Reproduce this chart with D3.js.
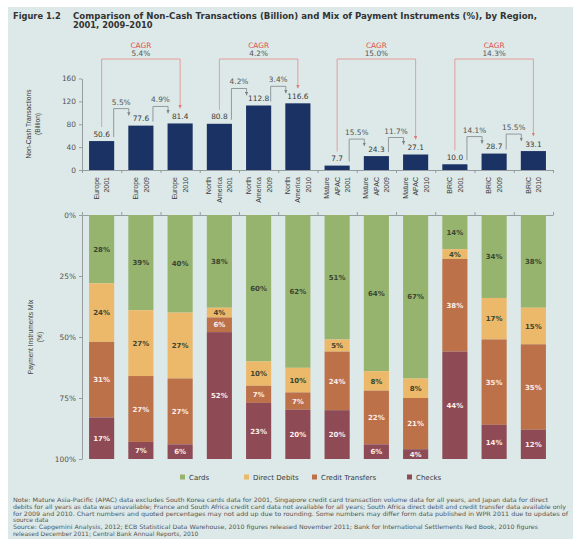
<!DOCTYPE html>
<html>
<head>
<meta charset="utf-8">
<script src="https://cdn.jsdelivr.net/npm/d3@7"></script>
<style>
  body { margin: 0; background: #fff; }
  svg { display: block; font-family: "DejaVu Sans", Verdana, sans-serif; }
</style>
</head>
<body>
<div id="canvas"></div>
<script>
// chart data
const categories = [
  'Europe\n2001', 'Europe\n2009', 'Europe\n2010',
  'North\nAmerica\n2001', 'North\nAmerica\n2009', 'North\nAmerica\n2010',
  'Mature\nAPAC\n2001', 'Mature\nAPAC\n2009', 'Mature\nAPAC\n2010',
  'BRIC\n2001', 'BRIC\n2009', 'BRIC\n2010'
];
const transactions = [50.6, 77.6, 81.4, 80.8, 112.8, 116.6, 7.7, 24.3, 27.1, 10.0, 28.7, 33.1];
const growthLabels = ['5.5%', '4.9%', '4.2%', '3.4%', '15.5%', '11.7%', '14.1%', '15.5%'];
const cagrLabels = ['5.4%', '4.2%', '15.0%', '14.3%'];

const mixKeys = ['Cards', 'Direct Debits', 'Credit Transfers', 'Checks'];
const cards = [28, 39, 40, 38, 60, 62, 51, 64, 67, 14, 34, 38];
const directDebits = [24, 27, 27, 4, 10, 10, 5, 8, 8, 4, 17, 15];
const creditTransfers = [31, 27, 27, 6, 7, 7, 24, 22, 21, 38, 35, 35];
const checks = [17, 7, 6, 52, 23, 20, 20, 6, 4, 44, 14, 12];

const yTicksTop = [0, 40, 80, 120, 160];
const yTicksMix = [0, 0.25, 0.5, 0.75, 1];

const notes = [
  'Note: Mature Asia-Pacific (APAC) data excludes South Korea cards data for 2001, Singapore credit card transaction volume data for all years, and Japan data for direct',
  'debits for all years as data was unavailable; France and South Africa credit card data not available for all years; South Africa direct debit and credit transfer data available only',
  'for 2009 and 2010. Chart numbers and quoted percentages may not add up due to rounding. Some numbers may differ form data published in WPR 2011 due to updates of',
  'source data',
  'Source: Capgemini Analysis, 2012; ECB Statistical Data Warehouse, 2010 figures released November 2011; Bank for International Settlements Red Book, 2010 figures',
  'released December 2011; Central Bank Annual Reports, 2010'
];

// canvas
const width = 573;
const height = 539;

const svg = d3.select('#canvas')
  .append('svg')
  .attr('width', width)
  .attr('height', height);

svg.append('rect')
  .attr('x', 8).attr('y', 7)
  .attr('width', width - 8).attr('height', height - 7)
  .attr('fill', '#dce9e8');

const colors = {
  'Cards': '#97b46f',
  'Direct Debits': '#ecb96b',
  'Credit Transfers': '#bd7149',
  'Checks': '#8e4b55'
};
const axisColor = '#8d9497';
const textColor = '#3a3a3a';

// title
svg.append('text')
  .attr('x', 13).attr('y', 19)
  .attr('font-size', 8.3).attr('font-weight', 'bold').attr('fill', '#333')
  .text('Figure 1.2');
svg.append('text')
  .attr('x', 73).attr('y', 19)
  .attr('font-size', 8.3).attr('font-weight', 'bold').attr('fill', '#333')
  .attr('textLength', 464).attr('lengthAdjust', 'spacingAndGlyphs')
  .text('Comparison of Non-Cash Transactions (Billion) and Mix of Payment Instruments (%), by Region,');
svg.append('text')
  .attr('x', 73).attr('y', 28)
  .attr('font-size', 8.3).attr('font-weight', 'bold').attr('fill', '#333')
  .text('2001, 2009\u20132010');

// scales
const x = d3.scaleBand()
  .domain(d3.range(categories.length))
  .range([82, 553])
  .paddingInner(0.36)
  .paddingOuter(0.18);
const xEdge = d3.scaleLinear().domain([0, categories.length]).range([82, 553]);
const yTop = d3.scaleLinear().domain([0, 160]).range([170, 78.5]);
const yMix = d3.scaleLinear().domain([0, 1]).range([215, 459]);
const bw = x.bandwidth();

// markers
const defs = svg.append('defs');
[['arrowGrey', '#7f868a'], ['arrowRed', '#e2787a']].forEach(([id, c]) => {
  defs.append('marker')
    .attr('id', id)
    .attr('viewBox', '0 0 6 6')
    .attr('refX', 6).attr('refY', 3)
    .attr('markerWidth', 3.4).attr('markerHeight', 3.4)
    .attr('markerUnits', 'userSpaceOnUse')
    .attr('orient', 'auto')
    .append('path').attr('d', 'M0,0L6,3L0,6Z').attr('fill', c);
});

const styleAxis = g => {
  g.attr('font-family', null).attr('font-size', 7.4);
  g.select('.domain').attr('stroke', axisColor).attr('stroke-width', 0.9);
  g.selectAll('.tick line').attr('stroke', axisColor).attr('stroke-width', 0.9);
  g.selectAll('.tick text').attr('fill', '#555');
};

// ---------- top chart: non-cash transactions ----------
svg.append('g')
  .attr('transform', 'translate(82,0)')
  .call(d3.axisLeft(yTop).tickValues(yTicksTop).tickSize(3).tickSizeOuter(0))
  .call(styleAxis);

svg.append('g')
  .attr('transform', 'translate(0,170)')
  .call(d3.axisBottom(xEdge).tickValues(d3.range(categories.length + 1)).tickFormat('').tickSize(3).tickSizeOuter(0))
  .call(styleAxis);

svg.append('g').selectAll('rect')
  .data(transactions)
  .join('rect')
    .attr('x', (d, i) => x(i))
    .attr('y', d => yTop(d))
    .attr('width', bw)
    .attr('height', d => yTop(0) - yTop(d))
    .attr('fill', '#1b3264');

svg.append('g').selectAll('text')
  .data(transactions)
  .join('text')
    .attr('x', (d, i) => x(i) + bw / 2)
    .attr('y', d => yTop(d) - 4.5)
    .attr('text-anchor', 'middle')
    .attr('font-size', 7.4)
    .attr('fill', textColor)
    .text(d => d.toFixed(1));

// category labels (rotated)
const catG = svg.append('g').selectAll('g')
  .data(categories)
  .join('g')
    .attr('transform', (d, i) => `translate(${x(i) + bw / 2},177) rotate(-90)`);
catG.append('text')
  .attr('text-anchor', 'end')
  .attr('font-size', 7)
  .attr('fill', textColor)
  .attr('font-family', '"Liberation Sans", Arial, sans-serif')
  .each(function (d) {
    const lines = d.split('\n');
    d3.select(this).selectAll('tspan')
      .data(lines)
      .join('tspan')
        .attr('x', 0)
        .attr('y', (l, k) => (k - (lines.length - 1) / 2) * 10.5 + 2.5)
        .text(l => l);
  });

// year-over-year growth brackets
const pairs = [];
for (let g = 0; g < 4; g++) for (let k = 0; k < 2; k++) pairs.push([g * 3 + k, g * 3 + k + 1]);
pairs.forEach(([a, b], j) => {
  const xl = x(a) + bw - 0.5;
  const xr = x(b) + 0.5;
  const top = yTop(transactions[b]) - 17;
  svg.append('path')
    .attr('d', `M${xl},${yTop(transactions[a]) - 4}V${top}H${xr}V${yTop(transactions[b]) - 10}`)
    .attr('fill', 'none')
    .attr('stroke', '#8a9094')
    .attr('stroke-width', 0.9)
    .attr('marker-end', 'url(#arrowGrey)');
  svg.append('text')
    .attr('x', (xl + xr) / 2)
    .attr('y', top - 4)
    .attr('text-anchor', 'middle')
    .attr('font-size', 7.4)
    .attr('fill', '#555')
    .text(growthLabels[j]);
});

// CAGR brackets
cagrLabels.forEach((lab, g) => {
  const a = g * 3, b = g * 3 + 2;
  const xl = x(a) + bw / 2;
  const xr = x(b) + bw / 2;
  svg.append('path')
    .attr('d', `M${xl},${yTop(transactions[a]) - 14}V59H${xr}V${yTop(transactions[b]) - 15}`)
    .attr('fill', 'none')
    .attr('stroke', '#e89394')
    .attr('stroke-width', 0.9)
    .attr('marker-end', 'url(#arrowRed)');
  svg.append('text')
    .attr('x', (xl + xr) / 2).attr('y', 47.5)
    .attr('text-anchor', 'middle')
    .attr('font-size', 7.4)
    .attr('fill', '#e0504c')
    .text('CAGR');
  svg.append('text')
    .attr('x', (xl + xr) / 2).attr('y', 55.5)
    .attr('text-anchor', 'middle')
    .attr('font-size', 7.4)
    .attr('fill', '#555')
    .text(lab);
});

// y axis title (top)
svg.append('text')
  .attr('transform', 'translate(33,124) rotate(-90)')
  .attr('text-anchor', 'middle')
  .attr('font-size', 6.6)
  .attr('fill', textColor)
  .attr('font-family', '"Liberation Sans", Arial, sans-serif')
  .selectAll('tspan')
  .data(['Non-Cash Transactions', '(Billion)'])
  .join('tspan')
    .attr('x', 0)
    .attr('y', (d, k) => (k - 0.5) * 9 + 2.3)
    .text(d => d);

// ---------- bottom chart: payment instrument mix ----------
const mixRows = categories.map((c, i) => ({
  'Cards': cards[i],
  'Direct Debits': directDebits[i],
  'Credit Transfers': creditTransfers[i],
  'Checks': checks[i]
}));
const series = d3.stack().keys(mixKeys).offset(d3.stackOffsetExpand)(mixRows);

svg.append('g')
  .attr('transform', 'translate(82,0)')
  .call(d3.axisLeft(yMix).tickValues(yTicksMix).tickFormat(d3.format('.0%')).tickSize(3).tickSizeOuter(0))
  .call(styleAxis);

svg.append('g')
  .attr('transform', 'translate(0,215)')
  .call(d3.axisTop(xEdge).tickValues(d3.range(categories.length + 1)).tickFormat('').tickSize(3).tickSizeOuter(0))
  .call(styleAxis);

const layer = svg.append('g').selectAll('g')
  .data(series)
  .join('g')
    .attr('fill', s => colors[s.key]);

layer.selectAll('rect')
  .data(s => s)
  .join('rect')
    .attr('x', (d, i) => x(i))
    .attr('y', d => yMix(d[0]))
    .attr('width', bw)
    .attr('height', d => yMix(d[1]) - yMix(d[0]));

layer.selectAll('text')
  .data(s => s.map(d => ({ d, key: s.key })))
  .join('text')
    .attr('x', (o, i) => x(i) + bw / 2)
    .attr('y', o => (yMix(o.d[0]) + yMix(o.d[1])) / 2 + 2.6)
    .attr('text-anchor', 'middle')
    .attr('font-size', 7)
    .attr('font-weight', 'bold')
    .attr('fill', o => (o.key === 'Cards' || o.key === 'Direct Debits') ? '#3b4630' : '#fbeeea')
    .text(o => o.d.data[o.key] + '%');

// y axis title (bottom)
svg.append('text')
  .attr('transform', 'translate(35,337) rotate(-90)')
  .attr('text-anchor', 'middle')
  .attr('font-size', 6.6)
  .attr('fill', textColor)
  .attr('font-family', '"Liberation Sans", Arial, sans-serif')
  .selectAll('tspan')
  .data(['Payment Instruments Mix', '(%)'])
  .join('tspan')
    .attr('x', 0)
    .attr('y', (d, k) => (k - 0.5) * 9 + 2.3)
    .text(d => d);

// legend
const legendX = [180, 244, 312, 407];
const legend = svg.append('g').selectAll('g')
  .data(mixKeys)
  .join('g')
    .attr('transform', (d, i) => `translate(${legendX[i]},474.5)`);
legend.append('rect')
  .attr('width', 5).attr('height', 5)
  .attr('fill', d => colors[d]);
legend.append('text')
  .attr('x', 9).attr('y', 5)
  .attr('font-size', 7)
  .attr('fill', textColor)
  .text(d => d);

// notes
const noteWidths = [535, 553, 555, null, 525, null];
svg.append('g').selectAll('text')
  .data(notes)
  .join('text')
    .attr('x', 13)
    .attr('y', (d, i) => 502 + i * 6.8)
    .attr('font-size', 6)
    .attr('fill', '#555')
    .attr('textLength', (d, i) => noteWidths[i])
    .attr('lengthAdjust', 'spacingAndGlyphs')
    .text(d => d);
</script>
</body>
</html>
